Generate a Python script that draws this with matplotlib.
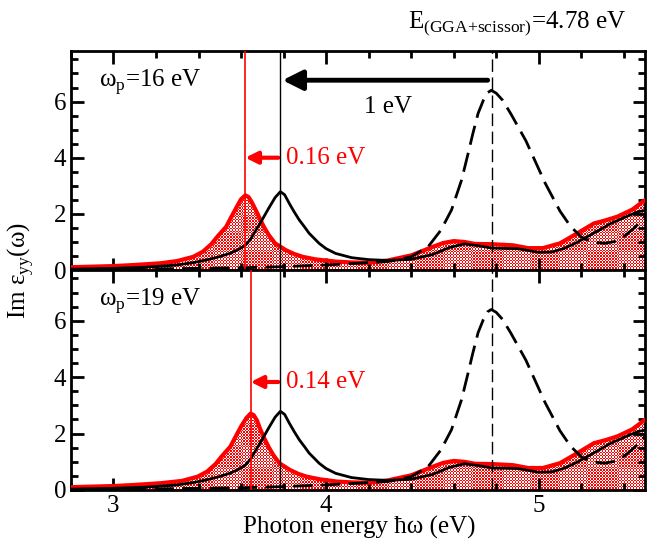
import numpy as np
import matplotlib
matplotlib.use("Agg")
import matplotlib.pyplot as plt
from matplotlib.ticker import MultipleLocator

plt.rcParams['font.family'] = ['Liberation Serif', 'DejaVu Serif']
plt.rcParams['mathtext.fontset'] = 'custom'
plt.rcParams['mathtext.rm'] = 'Liberation Serif'

# ---- data ----
# red filled spectrum, top panel (wp = 16 eV)
e_red16 = [2.80, 3.00, 3.10, 3.22, 3.30, 3.375, 3.42, 3.46, 3.49, 3.53, 3.555, 3.58, 3.60, 3.62,
           3.635, 3.65, 3.67, 3.69, 3.71, 3.73, 3.76, 3.81, 3.85, 3.89, 3.95, 4.045, 4.12, 4.20,
           4.29, 4.40, 4.50, 4.55, 4.60, 4.65, 4.70, 4.78, 4.88, 4.95, 5.02, 5.10, 5.18, 5.26,
           5.31, 5.37, 5.44, 5.50]
v_red16 = [0.10, 0.14, 0.18, 0.24, 0.32, 0.47, 0.65, 0.92, 1.20, 1.54, 1.90, 2.25, 2.52, 2.66,
           2.60, 2.42, 2.12, 1.80, 1.50, 1.25, 0.95, 0.71, 0.57, 0.47, 0.38, 0.30, 0.27, 0.26,
           0.34, 0.52, 0.82, 0.96, 1.03, 1.00, 0.93, 0.92, 0.88, 0.78, 0.78, 0.95, 1.30, 1.66,
           1.76, 1.90, 2.15, 2.49]

# red filled spectrum, bottom panel (wp = 19 eV)
e_red19 = [2.80, 3.00, 3.10, 3.22, 3.32, 3.395, 3.44, 3.48, 3.51, 3.55, 3.575, 3.60, 3.625, 3.645,
           3.66, 3.675, 3.69, 3.71, 3.73, 3.75, 3.78, 3.83, 3.87, 3.91, 3.97, 4.05, 4.12, 4.20,
           4.29, 4.40, 4.50, 4.55, 4.60, 4.65, 4.70, 4.78, 4.88, 4.95, 5.02, 5.10, 5.18, 5.26,
           5.31, 5.37, 5.44, 5.50]
v_red19 = [0.10, 0.14, 0.18, 0.24, 0.32, 0.47, 0.65, 0.92, 1.20, 1.54, 1.90, 2.25, 2.55, 2.71,
           2.65, 2.46, 2.16, 1.82, 1.52, 1.26, 0.95, 0.71, 0.57, 0.47, 0.38, 0.30, 0.27, 0.26,
           0.34, 0.52, 0.82, 0.96, 1.03, 1.00, 0.93, 0.92, 0.88, 0.78, 0.78, 0.95, 1.30, 1.66,
           1.76, 1.90, 2.15, 2.49]

# black solid spectrum (same in both panels)
e_black = [2.80, 3.00, 3.15, 3.30, 3.38, 3.45, 3.50, 3.55, 3.59, 3.62, 3.645, 3.67, 3.70, 3.73,
           3.76, 3.785, 3.805, 3.827, 3.85, 3.874, 3.90, 3.92, 3.967, 4.00, 4.045, 4.12, 4.20,
           4.29, 4.40, 4.50, 4.58, 4.65, 4.72, 4.78, 4.90, 5.00, 5.06, 5.12, 5.18, 5.23, 5.34,
           5.43, 5.47, 5.50]
v_black = [0.03, 0.06, 0.10, 0.18, 0.27, 0.38, 0.48, 0.60, 0.74, 0.88, 1.10, 1.42, 1.80, 2.20,
           2.58, 2.79, 2.68, 2.37, 2.07, 1.78, 1.52, 1.31, 0.95, 0.76, 0.59, 0.44, 0.37,
           0.34, 0.38, 0.55, 0.80, 0.93, 0.86, 0.78, 0.76, 0.63, 0.64, 0.77, 0.98, 1.19, 1.66,
           1.96, 2.08, 2.12]

# GGA + scissor, dashed
e_gga = [2.80, 3.20, 3.60, 3.80, 4.00, 4.15, 4.29, 4.40, 4.48, 4.54, 4.59, 4.637, 4.668, 4.69,
         4.715, 4.74, 4.76, 4.777, 4.80, 4.83, 4.87, 4.94, 5.03, 5.10, 5.15, 5.20, 5.25, 5.31,
         5.36, 5.40, 5.45, 5.50]
v_gga = [0.02, 0.04, 0.08, 0.12, 0.18, 0.24, 0.30, 0.47, 0.83, 1.42, 2.14, 3.20, 4.15, 4.85,
         5.58, 6.05, 6.32, 6.40, 6.30, 6.05, 5.55, 4.60, 3.10, 2.10, 1.55, 1.18, 1.00, 0.95,
         1.02, 1.19, 1.50, 1.90]

wp_labels = [r'ω$_{\mathregular{p}}$=16 eV', r'ω$_{\mathregular{p}}$=19 eV']
red_peaks = [3.62, 3.645]
shift_labels = ['0.16 eV', '0.14 eV']
shift_y = [4.0, 3.83]
black_peak = 3.785
gga_peak = 4.78

fig = plt.figure(figsize=(6.47, 5.41), dpi=100)
ax1 = fig.add_axes([0.1097, 0.5009, 0.8872, 0.4048])
ax2 = fig.add_axes([0.1097, 0.0943, 0.8872, 0.4066], sharex=ax1)

# checker pattern used for the filled red area
ny, nx = 150, 390
yy, xx = np.mgrid[0:ny, 0:nx]
checker = ((xx + yy) % 2).astype(float)
cmap = matplotlib.colors.ListedColormap(['white', '#ff0000'])

reds = [(e_red16, v_red16), (e_red19, v_red19)]
for i, ax in enumerate([ax1, ax2]):
    er, vr = reds[i]
    poly = ax.fill_between(er, 0, vr, facecolor='none', edgecolor='none')
    im = ax.imshow(checker, extent=[2.8, 5.5, 0, 7.8], aspect='auto', cmap=cmap,
                   interpolation='nearest', zorder=1)
    im.set_clip_path(poly.get_paths()[0], transform=ax.transData)
    ax.plot(er, vr, color='red', lw=3, zorder=3, solid_joinstyle='round')
    ax.plot(e_black, v_black, color='black', lw=2, zorder=4, solid_joinstyle='round')
    ax.plot(e_gga, v_gga, color='black', lw=2, ls=(0, (7, 3)), zorder=4)
    ax.axvline(red_peaks[i], color='red', lw=1.2, zorder=5)
    ax.axvline(black_peak, color='black', lw=1.0, zorder=5)
    ax.axvline(gga_peak, color='black', lw=1.0, ls=(0, (9, 4)), zorder=5)

    ax.annotate('', xy=(red_peaks[i], shift_y[i]), xytext=(black_peak - 0.01, shift_y[i]),
                arrowprops=dict(arrowstyle='-|>', color='red', lw=3, mutation_scale=18,
                                shrinkA=0, shrinkB=0))
    ax.text(black_peak + 0.025, shift_y[i], shift_labels[i], color='red', fontsize=18,
            va='center', ha='left')
    ax.text(2.93, 6.7, wp_labels[i], fontsize=18, va='center', ha='left')

    ax.set_xlim(2.8, 5.5)
    ax.set_ylim(0, 7.8)
    ax.xaxis.set_major_locator(MultipleLocator(1))
    ax.xaxis.set_minor_locator(MultipleLocator(0.2))
    ax.yaxis.set_major_locator(MultipleLocator(2))
    ax.yaxis.set_minor_locator(MultipleLocator(0.5))
    ax.tick_params(which='both', direction='in', top=True, right=True, labelsize=18, width=2)
    ax.tick_params(which='major', length=9)
    ax.tick_params(which='minor', length=5)
    for sp in ax.spines.values():
        sp.set_linewidth(2)

ax1.tick_params(labelbottom=False)
ax1.annotate('', xy=(black_peak + 0.01, 6.76), xytext=(4.76, 6.76),
             arrowprops=dict(arrowstyle='-|>', color='black', lw=3.5, mutation_scale=30,
                             shrinkA=0, shrinkB=0))
ax1.text(4.29, 5.8, '1 eV', fontsize=18, ha='center', va='center')

fig.text(0.63, 0.955, r'E$_{\mathregular{(GGA{+}scissor)}}$=4.78 eV', fontsize=18,
         ha='left', va='center')
fig.text(0.555, 0.004, 'Photon energy ħω (eV)', fontsize=18, ha='center', va='bottom')
fig.text(0.032, 0.5, r'Im ε$_{\mathregular{yy}}$(ω)', fontsize=18,
         rotation=90, ha='center', va='center')

fig.savefig('out.png', dpi=100)
